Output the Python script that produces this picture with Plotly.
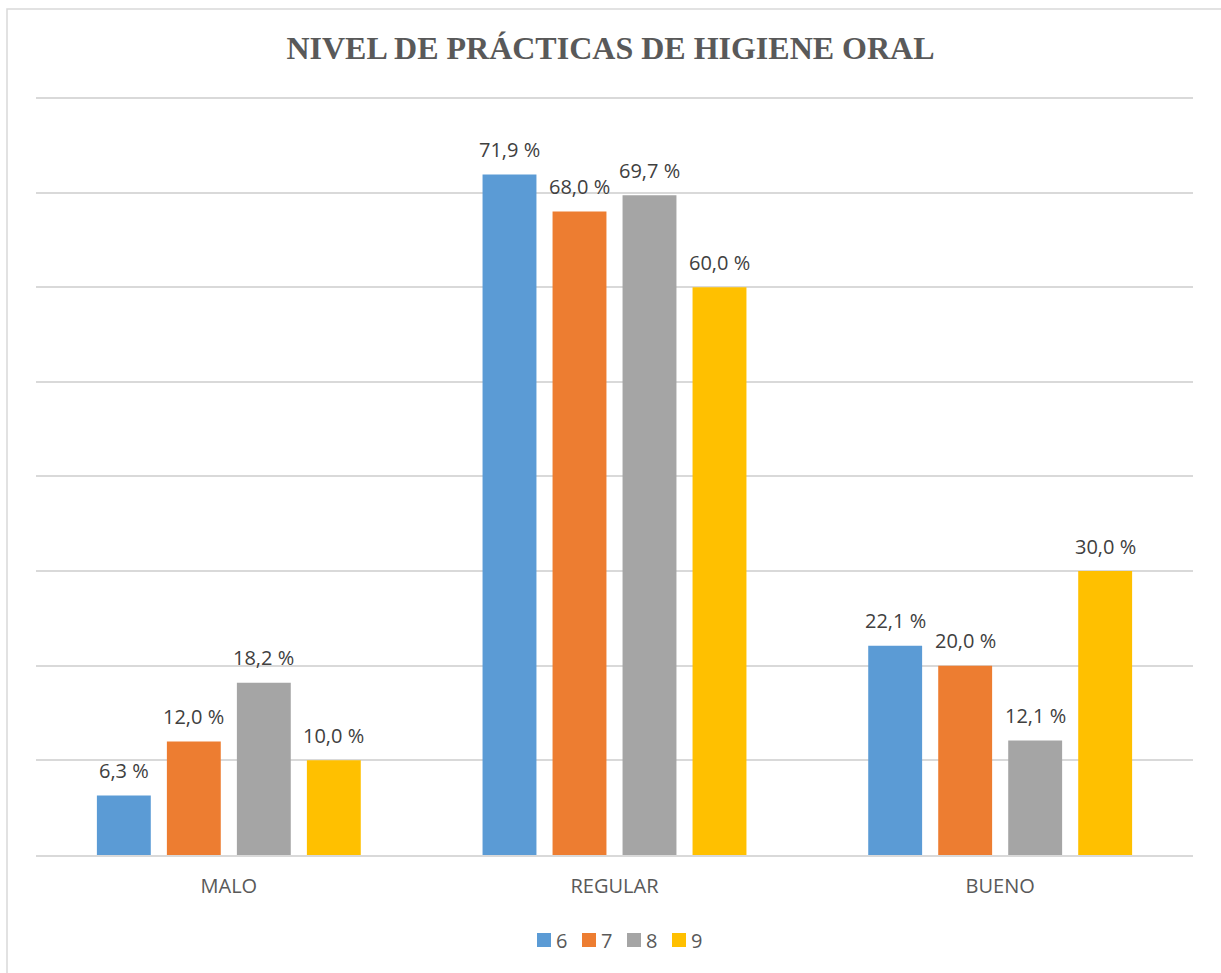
import plotly.graph_objects as go

categories = ["MALO", "REGULAR", "BUENO"]
series_names = ["6", "7", "8", "9"]
values_6 = [6.3, 71.9, 22.1]
values_7 = [12.0, 68.0, 20.0]
values_8 = [18.2, 69.7, 12.1]
values_9 = [10.0, 60.0, 30.0]
all_values = [values_6, values_7, values_8, values_9]
colors = ["#5B9BD5", "#ED7D31", "#A5A5A5", "#FFC000"]

W, H = 1221, 973
L, R, B = 36, 28, 118
plot_w = W - L - R
plot_h80 = 855 - 98
ymax = 80.2
top_margin = 855 - round(plot_h80 * ymax / 80)
plot_h = 855 - top_margin

def px_x(p):
    return (p - L) / plot_w

def px_y(p):
    return (855 - p) / plot_h

FONT = "'Open Sans', sans-serif"

fig = go.Figure()
for name, vals, col in zip(series_names, all_values, colors):
    fig.add_trace(go.Bar(x=categories, y=vals, name=name, marker_color=col,
                         marker_line_width=0, showlegend=False))

slot_px = 70
annotations = []
for i, vals in enumerate(all_values):
    for cat, v in zip(categories, vals):
        annotations.append(dict(
            x=cat, y=v, xref="x", yref="y",
            text=f"{v:.1f} %".replace(".", ","),
            showarrow=False, xshift=(i - 1.5) * slot_px, yshift=25,
            font=dict(family=FONT, size=20, color="#404040"),
        ))

shapes = []
# manual legend
for i, (name, col) in enumerate(zip(series_names, colors)):
    x0 = 537 + 45 * i
    shapes.append(dict(type="rect", xref="paper", yref="paper",
                       x0=px_x(x0), x1=px_x(x0 + 14), y0=px_y(947), y1=px_y(933),
                       fillcolor=col, line=dict(width=0)))
    annotations.append(dict(xref="paper", yref="paper", x=px_x(x0 + 17), y=px_y(940),
                            xanchor="left", yanchor="middle", text=name, showarrow=False,
                            font=dict(family=FONT, size=20, color="#595959")))

# chart border
shapes.append(dict(type="rect", xref="paper", yref="paper",
                   x0=px_x(7), y0=-0.5, x1=1.5, y1=px_y(9),
                   line=dict(color="#d9d9d9", width=1.5), layer="below"))

fig.update_layout(
    width=W, height=H,
    margin=dict(l=L, r=R, t=top_margin, b=B),
    paper_bgcolor="white", plot_bgcolor="white",
    barmode="group", bargap=0.274, bargroupgap=0.23,
    title=dict(text="<b>NIVEL DE PRÁCTICAS DE HIGIENE ORAL</b>", x=0.5, xanchor="center",
               y=1 - 48 / H, yanchor="middle",
               font=dict(family="Liberation Serif, Times New Roman, serif", size=32, color="#595959")),
    xaxis=dict(showgrid=False, showline=True, linecolor="#d9d9d9", linewidth=1.5,
               ticks="", ticklabelstandoff=12,
               tickfont=dict(family=FONT, size=20, color="#595959")),
    yaxis=dict(range=[0, ymax], dtick=10, showticklabels=False, showgrid=True,
               gridcolor="#d9d9d9", gridwidth=1.5, zeroline=False),
    annotations=annotations,
    shapes=shapes,
    showlegend=False,
)

fig.write_html("out.html", post_script="document.body.style.margin='0';",
               config={"displayModeBar": False})
